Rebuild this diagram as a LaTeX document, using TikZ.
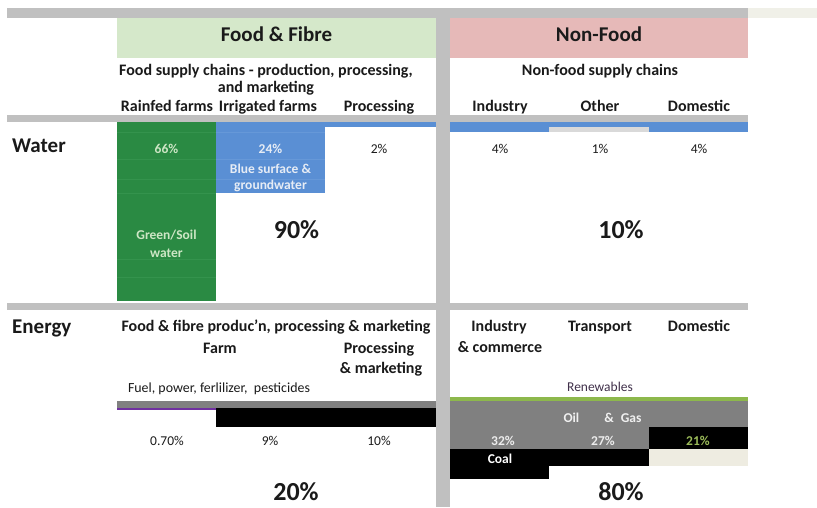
\documentclass[tikz,border=0pt]{standalone}
\usepackage{fontspec}
\setmainfont{Carlito}
\definecolor{barGray}{HTML}{C0C0C0}
\definecolor{hdrGreen}{HTML}{D5E8CA}
\definecolor{hdrPink}{HTML}{E6B9B8}
\definecolor{soilGreen}{HTML}{2A8A43}
\definecolor{gridGreen}{HTML}{3C9A55}
\definecolor{waterBlue}{HTML}{5A8FD4}
\definecolor{gridBlue}{HTML}{6E9EDC}
\definecolor{lightGray}{HTML}{D9D9D9}
\definecolor{midGray}{HTML}{808080}
\definecolor{renGreen}{HTML}{8DB84C}
\definecolor{fuelPurple}{HTML}{7030A0}
\definecolor{beige}{HTML}{EEECE1}
\definecolor{paleBeige}{HTML}{F0F0E8}
\definecolor{txt}{HTML}{1A1A1A}
\definecolor{pctGreen}{HTML}{9BBB59}
\definecolor{renText}{HTML}{40304A}
\definecolor{paleGreenTxt}{HTML}{CDE6C5}
\definecolor{paleTxt}{HTML}{E6ECF5}
\tikzset{
  hdr/.style={font=\fontsize{21}{25}\selectfont\bfseries, inner sep=0, text=txt, text height=14.7pt, text depth=2.1pt},
  sub/.style={font=\fontsize{16}{19}\selectfont\bfseries, inner sep=0, text=txt, text height=11.2pt, text depth=1.6pt},
  val/.style={font=\fontsize{13.5}{16}\selectfont, inner sep=0, text=txt, text height=9.45pt, text depth=1.35pt},
  valb/.style={font=\fontsize{13.5}{16}\selectfont\bfseries, inner sep=0, text height=9.45pt, text depth=1.35pt},
  big/.style={font=\fontsize{26}{30}\selectfont\bfseries, inner sep=0, text=txt, text height=18.2pt, text depth=2.6pt},
  grid/.style={line width=0.6pt, opacity=0.6},
}
\begin{document}
\begin{tikzpicture}[x=1pt,y=-1pt]
\useasboundingbox (0,0) rectangle (817,507);
\fill[white] (0,0) rectangle (817,507);
% top bars and headers
\fill[barGray] (7,8) rectangle (748,17.5);
\fill[paleBeige] (748,8) rectangle (817,17.5);
\fill[hdrGreen] (117,17.5) rectangle (436,58);
\fill[hdrPink] (450,17.5) rectangle (748,58);
\fill[barGray] (436,8) rectangle (450,507);
% row separators
\fill[barGray] (7,115) rectangle (436,121.5);
\fill[barGray] (450,115) rectangle (748,121.5);
\fill[barGray] (7,302.5) rectangle (436,310);
\fill[barGray] (450,302.5) rectangle (748,310);
% water bars
\fill[soilGreen] (117,121.5) rectangle (216,300.5);
\fill[waterBlue] (216,121.5) rectangle (436,126.5);
\fill[waterBlue] (216,126.5) rectangle (325,193);
\foreach \yy in {132,159,179,193,259,277}
  \draw[gridGreen, grid] (117,\yy) -- (216,\yy);
\foreach \yy in {132,159,179}
  \draw[gridBlue, grid] (216,\yy) -- (325,\yy);
\fill[waterBlue] (450,122) rectangle (748,127);
\fill[waterBlue] (450,127) rectangle (549,132);
\fill[lightGray] (549,127) rectangle (649,132);
\fill[waterBlue] (649,127) rectangle (748,132);
% energy bars left
\fill[midGray] (117,400.5) rectangle (436,408);
\fill[fuelPurple] (117,407.5) rectangle (216,410);
\fill[black] (216,408) rectangle (436,427);
% energy bars right
\fill[renGreen] (450,397) rectangle (748,400.5);
\fill[midGray] (450,400.5) rectangle (748,427);
\fill[midGray] (450,427) rectangle (649,449);
\fill[black] (649,427) rectangle (748,449);
\fill[beige] (649,449) rectangle (748,466);
\fill[black] (450,449) rectangle (649,466);
\fill[black] (450,466) rectangle (549,479);
% headers text
\node[hdr] (ff) at (276.5,35) {Food \& Fibre};
\node[hdr] (nf) at (599,35) {Non-Food};
\node[sub] (fsc1) at (266,71) {Food supply chains - production, processing,};
\node[sub] (fsc2) at (266,88) {and marketing};
\node[sub] (rain) at (167,107) {Rainfed farms};
\node[sub] (irr) at (268,107) {Irrigated farms};
\node[sub] (proc) at (379,107) {Processing};
\node[sub] (nfsc) at (600,71) {Non-food supply chains};
\node[sub] (ind) at (500,107) {Industry};
\node[sub] (oth) at (600,107) {Other};
\node[sub] (dom) at (699,107) {Domestic};
% water
\node[hdr, anchor=west] (water) at (12,146) {Water};
\node[valb, text=paleGreenTxt] (p66) at (166.5,149) {66\%};
\node[valb, text=paleTxt] (p24) at (270.5,149) {24\%};
\node[valb, text=paleTxt] (blue1) at (270.5,169.5) {Blue surface \&};
\node[valb, text=paleTxt] (blue2) at (270.5,185) {groundwater};
\node[val] (p2) at (379,149) {2\%};
\node[val] (p4a) at (500,149) {4\%};
\node[val] (p1) at (600,149) {1\%};
\node[val] (p4b) at (699,149) {4\%};
\node[valb, text=paleGreenTxt] (gs1) at (166.5,235) {Green/Soil};
\node[valb, text=paleGreenTxt] (gs2) at (166.5,253) {water};
\node[big] (p90) at (296.5,231) {90\%};
\node[big] (p10) at (621,231) {10\%};
% energy
\node[hdr, anchor=west] (energy) at (12,327) {Energy};
\node[sub] (ffp) at (276,327) {Food \& fibre produc'n, processing \& marketing};
\node[sub] (farm) at (220,349) {Farm};
\node[sub] (pm1) at (379,349) {Processing};
\node[sub] (pm2) at (381,368.5) {\& marketing};
\node[val, font=\fontsize{13.9}{16}\selectfont] (fuel) at (219,388) {Fuel, power, ferlilizer,\ \ pesticides};
\node[val] (p07) at (167,441) {0.70\%};
\node[val] (p9) at (270,441) {9\%};
\node[val] (p10s) at (379,441) {10\%};
\node[big] (p20) at (296,493) {20\%};
\node[sub] (ic1) at (499,327) {Industry};
\node[sub] (ic2) at (500,348) {\& commerce};
\node[sub] (tr) at (600,327) {Transport};
\node[sub] (dome) at (699,327) {Domestic};
\node[val, text=renText] (ren) at (600,387) {Renewables};
\node[valb, text=white!88!gray] (oil) at (602.5,418.5) {Oil\hspace{25pt}\&\hspace{7pt}Gas};
\node[valb, text=white!85!gray] (p32) at (503,441) {32\%};
\node[valb, text=white!85!gray] (p27) at (603,441) {27\%};
\node[valb, text=pctGreen] (p21) at (698,441) {21\%};
\node[valb, text=white] (coal) at (500,459) {Coal};
\node[big] (p80) at (621,493) {80\%};
\end{tikzpicture}
\end{document}
